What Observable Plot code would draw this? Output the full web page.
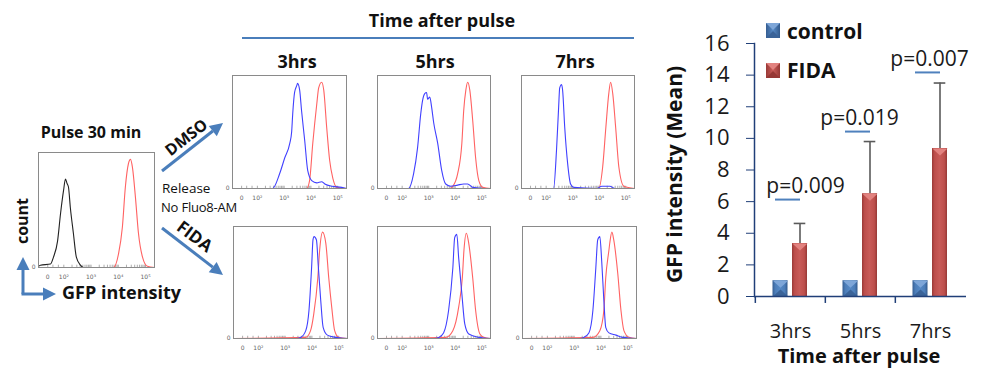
<!DOCTYPE html>
<html><head><meta charset="utf-8">
<script src="https://cdn.jsdelivr.net/npm/d3@7"></script>
<script src="https://cdn.jsdelivr.net/npm/@observablehq/plot@0.6"></script>
<style>
html,body{margin:0;padding:0;background:#fff;}
#root{position:relative;width:986px;height:378px;overflow:hidden;background:#fff;}
#root svg{position:absolute;}
</style></head><body><div id="root"></div>
<script>
// ---------------- DATA ----------------
// flow-cytometry histogram axis (log10 GFP units; "0" sits on the biexponential part)
const logTicks = [1.41, 2, 3, 4, 5];
const logTickLabels = ["0", "10²", "10³", "10⁴", "10⁵"];

// histogram curves: [log10 GFP, % of modal count]
const pulseBlack = [[1.07,1],[1.14,2],[1.51,3],[1.62,9],[1.77,23],[1.88,47],[1.99,67],[2.06,77],[2.12,73],[2.17,70],[2.24,52],[2.35,30],[2.46,9],[2.61,2],[2.72,0],[2.9,0]];
const pulseRed = [[2.6,0],[3.82,0],[4.01,12],[4.15,35],[4.26,70],[4.37,90],[4.45,94],[4.52,87],[4.63,61],[4.74,30],[4.89,9],[5.07,1],[5.33,0]];

const dmso3Blue = [[1.07,0],[2.57,0],[2.83,13],[3.02,27],[3.21,40],[3.28,50],[3.32,66],[3.39,85],[3.47,91],[3.50,93],[3.58,87],[3.65,69],[3.77,42],[3.88,16],[4.03,7],[4.22,5],[4.40,6],[4.52,4],[4.78,2],[5.15,1],[5.33,0]];
const dmso3Red = [[1.07,0],[3.84,0],[3.95,7],[4.07,40],[4.22,75],[4.29,89],[4.40,94],[4.48,87],[4.59,54],[4.70,25],[4.82,9],[4.97,1],[5.33,0]];
const dmso5Blue = [[1.07,0],[2.24,0],[2.43,13],[2.58,36],[2.70,66],[2.77,78],[2.85,84],[2.92,85],[2.96,79],[3.04,81],[3.11,72],[3.19,58],[3.34,40],[3.49,16],[3.64,4],[3.83,2],[4.09,3],[4.32,4],[4.47,4],[4.66,1],[5.08,0],[5.33,0]];
const dmso5Red = [[1.07,0],[3.80,0],[3.91,2],[4.09,13],[4.25,40],[4.32,69],[4.40,87],[4.47,94],[4.55,87],[4.66,60],[4.77,27],[4.89,7],[5.04,1],[5.33,0]];
const dmso7Blue = [[1.07,0],[2.28,0],[2.39,34],[2.47,72],[2.51,89],[2.58,92],[2.62,87],[2.70,54],[2.81,22],[2.92,4],[3.04,1],[3.90,0],[4.10,2],[4.40,2],[4.60,0],[5.33,0]];
const dmso7Red = [[1.07,0],[3.98,0],[4.13,19],[4.25,54],[4.36,84],[4.43,94],[4.51,84],[4.62,54],[4.74,19],[4.93,2],[5.33,0]];

const fida3Blue = [[1.07,0],[3.40,0],[3.58,1],[3.77,7],[3.89,25],[3.99,64],[4.04,88],[4.08,91],[4.17,88],[4.24,64],[4.33,34],[4.42,10],[4.58,3],[4.89,1],[5.33,0]];
const fida3Red = [[1.07,0],[3.77,1],[3.95,7],[4.07,22],[4.22,54],[4.29,79],[4.40,95],[4.52,85],[4.63,54],[4.74,28],[4.85,7],[5.00,1],[5.33,0]];
const fida5Blue = [[1.07,0],[3.20,0],[3.38,1],[3.56,5],[3.75,25],[3.91,63],[3.98,90],[4.06,93],[4.13,72],[4.25,40],[4.36,13],[4.51,4],[4.89,1],[5.33,0]];
const fida5Red = [[1.07,0],[3.64,1],[3.91,7],[4.13,28],[4.27,55],[4.33,79],[4.42,94],[4.51,85],[4.66,54],[4.77,25],[4.93,4],[5.08,1],[5.33,0]];
const fida7Blue = [[1.07,0],[3.20,0],[3.36,1],[3.55,5],[3.70,25],[3.81,63],[3.88,88],[3.96,91],[4.03,69],[4.11,34],[4.18,10],[4.30,5],[4.56,3],[4.82,1],[5.33,0]];
const fida7Red = [[1.07,0],[3.70,1],[3.96,7],[4.11,25],[4.18,54],[4.30,79],[4.33,85],[4.41,95],[4.48,88],[4.63,58],[4.75,25],[4.86,7],[5.05,1],[5.33,0]];

// bar chart
const times = ["3hrs", "5hrs", "7hrs"];
const controlMean = [1, 1, 1];
const fidaMean = [3.35, 6.5, 9.36];
const fidaErrTop = [4.62, 9.8, 13.5];
const pLabels = ["p=0.009", "p=0.019", "p=0.007"];
const sigLevel = [6.13, 10.43, 14.17];
const yTicks = [0, 2, 4, 6, 8, 10, 12, 14, 16];

// ---------------- DRAW ----------------
const root = document.getElementById("root");
const BLUE = "#4040ff", RED = "#ff6262", BLACK = "#222";
const tickLabelMap = new Map(logTicks.map((t, i) => [t, logTickLabels[i]]));
const minorTicks = [];
for (let n = 2; n <= 4; n++) for (let k = 1; k <= 9; k++) minorTicks.push(Math.log10(k * 10 ** n));
minorTicks.push(5, 1.41, 1.6, 1.8);

function histPanel(series, left, top, w, h) {
  const ml = 12, mr = 4, mt = 2, mb = 22;
  const svg = Plot.plot({
    width: w + ml + mr, height: h + mt + mb,
    marginLeft: ml, marginRight: mr, marginTop: mt, marginBottom: mb,
    x: {domain: [1.07, 5.33]},
    y: {domain: [0, 100]},
    style: {background: "none", fontFamily: "'DejaVu Sans', sans-serif", overflow: "visible"},
    marks: [
      Plot.ruleX(minorTicks, {y1: 0, y2: 2, stroke: "#777", strokeWidth: 0.6}),
      ...series.map(s => Plot.line(s.data, {x: d => d[0], y: d => d[1], stroke: s.color, strokeWidth: 1.1, curve: "monotone-x"})),
      Plot.frame({stroke: "#8a8a8a", strokeWidth: 1}),
      Plot.axisX({ticks: logTicks, tickFormat: d => tickLabelMap.get(d), tickSize: 0, tickPadding: 7, fontSize: 6, fill: "#666", label: null}),
      Plot.axisY({ticks: [0], tickSize: 0, tickPadding: 3, fontSize: 6, fill: "#666", label: null})
    ]
  });
  svg.style.left = (left - ml) + "px";
  svg.style.top = (top - mt) + "px";
  root.appendChild(svg);
}

histPanel([{data: pulseRed, color: RED}, {data: pulseBlack, color: BLACK}], 38, 152, 116, 115);
histPanel([{data: dmso3Red, color: RED}, {data: dmso3Blue, color: BLUE}], 232, 75, 114, 113);
histPanel([{data: dmso5Red, color: RED}, {data: dmso5Blue, color: BLUE}], 377, 75, 113, 113);
histPanel([{data: dmso7Red, color: RED}, {data: dmso7Blue, color: BLUE}], 521, 75, 113, 113);
histPanel([{data: fida3Red, color: RED}, {data: fida3Blue, color: BLUE}], 233, 226, 114, 112);
histPanel([{data: fida5Red, color: RED}, {data: fida5Blue, color: BLUE}], 377, 226, 113, 112);
histPanel([{data: fida7Red, color: RED}, {data: fida7Blue, color: BLUE}], 522, 226, 114, 112);

// ---- bar chart ----
const NAVY = "#203f78";
const barData = times.map((t, i) => ({time: t, control: controlMean[i], fida: fidaMean[i], top: fidaErrTop[i], p: pLabels[i], level: sigLevel[i]}));
const triDown = {draw(ctx) { ctx.moveTo(-7.6, 0); ctx.lineTo(7.6, 0); ctx.lineTo(0, 7); ctx.closePath(); }};
const triUp = {draw(ctx) { ctx.moveTo(-7.6, 0); ctx.lineTo(7.6, 0); ctx.lineTo(0, -7); ctx.closePath(); }};
const font = "'Open Sans', sans-serif";

const bar = Plot.plot({
  width: 326, height: 378,
  marginLeft: 94, marginRight: 20, marginTop: 43, marginBottom: 82,
  x: {domain: times, padding: 0},
  y: {domain: [0, 16]},
  style: {background: "none", fontFamily: font, overflow: "visible", color: "#1a1a1a"},
  marks: [
    Plot.ruleX(barData, {x: "time", y1: "fida", y2: "top", dx: 9.5, stroke: "#5a5a5a", strokeWidth: 1.6}),
    Plot.tickY(barData, {x: "time", y: "top", dx: 9.5, insetLeft: 29.2, insetRight: 29.2, stroke: "#5a5a5a", strokeWidth: 1.6}),
    Plot.barY(barData, {x: "time", y: "control", dx: -10, insetLeft: 27.5, insetRight: 27.5, fill: "url(#gBlue)"}),
    Plot.barY(barData, {x: "time", y: "fida", dx: 9.5, insetLeft: 27.5, insetRight: 27.5, fill: "url(#gRed)"}),
    Plot.dot(barData, {x: "time", y: "control", dx: -10, symbol: triDown, fill: "#7ea6d8", stroke: "none"}),
    Plot.dot(barData, {x: "time", y: 0, dx: -10, symbol: triUp, fill: "#3a6398", stroke: "none"}),
    Plot.dot(barData, {x: "time", y: "fida", dx: 9.5, symbol: triDown, fill: "#e2827f", stroke: "none"}),
    Plot.tickY(barData, {x: "time", y: "level", dx: -2.5, insetLeft: 22.5, insetRight: 22.5, stroke: "#4f81bd", strokeWidth: 2}),
    Plot.text(barData.filter(d => d.time === "3hrs"), {x: "time", y: "level", text: "p", dy: -13, dx: 15, fontSize: 21, fill: "#1a1a1a"}),
    Plot.text(barData.filter(d => d.time !== "3hrs"), {x: "time", y: "level", text: "p", dy: -13, dx: -1, fontSize: 21, fill: "#1a1a1a"}),
    Plot.frame({anchor: "left", stroke: NAVY, strokeWidth: 1.5}),
    Plot.ruleY([0], {stroke: NAVY, strokeWidth: 1.5}),
    Plot.ruleX(times, {x: d => d, dx: -35.17, y1: 0, y2: -0.44, stroke: NAVY, strokeWidth: 1.5}),
    Plot.axisY({ticks: yTicks, tickSize: 8, tickPadding: 17, fontSize: 22, stroke: NAVY, fill: "#1a1a1a", label: null}),
    Plot.axisX({tickSize: 0, tickPadding: 27, fontSize: 20, fill: "#1a1a1a", label: null})
  ]
});
bar.insertAdjacentHTML("afterbegin", `<defs>
<linearGradient id="gBlue" x1="0" x2="1" y1="0" y2="0">
<stop offset="0" stop-color="#365e92"/><stop offset="0.18" stop-color="#4c7db8"/><stop offset="0.5" stop-color="#5689c5"/><stop offset="0.82" stop-color="#4c7db8"/><stop offset="1" stop-color="#335a8c"/></linearGradient>
<linearGradient id="gRed" x1="0" x2="1" y1="0" y2="0">
<stop offset="0" stop-color="#9a3a37"/><stop offset="0.18" stop-color="#bd4f4c"/><stop offset="0.5" stop-color="#c85b58"/><stop offset="0.82" stop-color="#bd4f4c"/><stop offset="1" stop-color="#963835"/></linearGradient>
</defs>`);
bar.style.left = "660px";
bar.style.top = "0px";
root.appendChild(bar);

// ---- annotations overlay (titles, arrows, legend) ----
const AR = "#4a7ebb";
function arrow(x1, y1, x2, y2, hl = 13, hw = 13) {
  const dx = x2 - x1, dy = y2 - y1, L = Math.hypot(dx, dy), ux = dx / L, uy = dy / L;
  const bx = x2 - ux * hl, by = y2 - uy * hl, px = -uy * hw / 2, py = ux * hw / 2;
  return `<line x1="${x1}" y1="${y1}" x2="${bx}" y2="${by}" stroke="${AR}" stroke-width="3"/>
  <polygon points="${x2},${y2} ${bx + px},${by + py} ${bx - px},${by - py}" fill="${AR}"/>`;
}
const ov = `<svg width="986" height="378" style="left:0;top:0;pointer-events:none" font-family="'Open Sans', sans-serif" fill="#111">
<defs>
<linearGradient id="lgB" x1="0" x2="1"><stop offset="0" stop-color="#365e92"/><stop offset="0.5" stop-color="#5689c5"/><stop offset="1" stop-color="#335a8c"/></linearGradient>
<linearGradient id="lgR" x1="0" x2="1"><stop offset="0" stop-color="#9a3a37"/><stop offset="0.5" stop-color="#c85b58"/><stop offset="1" stop-color="#963835"/></linearGradient>
</defs>
<text x="91" y="138" text-anchor="middle" font-weight="700" font-size="16">Pulse 30 min</text>
<text transform="translate(28,221) rotate(-90)" text-anchor="middle" font-weight="700" font-size="16">count</text>
<text x="62" y="299" font-weight="700" font-size="18">GFP intensity</text>
${arrow(23, 294, 23, 257)}
${arrow(21.5, 294, 56, 294)}
${arrow(162, 171, 223, 123)}
${arrow(162, 228, 223, 275)}
<text transform="translate(186,137) rotate(-38)" text-anchor="middle" dominant-baseline="central" font-weight="700" font-size="16">DMSO</text>
<text transform="translate(195,236) rotate(37)" text-anchor="middle" dominant-baseline="central" font-weight="700" font-size="17">FIDA</text>
<text x="162" y="193" font-size="13.5">Release</text>
<text x="161" y="212" font-size="13" letter-spacing="-0.2">No Fluo8-AM</text>
<text x="442" y="27" text-anchor="middle" font-weight="700" font-size="18">Time after pulse</text>
<line x1="242" y1="38" x2="634" y2="38" stroke="${AR}" stroke-width="2"/>
<text x="297" y="68" text-anchor="middle" font-weight="700" font-size="18">3hrs</text>
<text x="435" y="68" text-anchor="middle" font-weight="700" font-size="18">5hrs</text>
<text x="575" y="68" text-anchor="middle" font-weight="700" font-size="18">7hrs</text>
<text transform="translate(682,174.5) rotate(-90)" text-anchor="middle" font-weight="700" font-size="21">GFP intensity (Mean)</text>
<text x="859" y="363" text-anchor="middle" font-weight="700" font-size="20">Time after pulse</text>
<rect x="766" y="23" width="14" height="15" fill="url(#lgB)"/>
<polygon points="766,23 780,23 773,30" fill="#7ea6d8"/>
<polygon points="766,38 780,38 773,31" fill="#3a6398"/>
<text x="787" y="39" font-weight="700" font-size="21">control</text>
<rect x="766" y="63" width="14" height="15" fill="url(#lgR)"/>
<polygon points="766,63 780,63 773,70" fill="#e2827f"/>
<polygon points="766,78 780,78 773,71" fill="#963835"/>
<text x="787" y="78" font-weight="700" font-size="21">FIDA</text>
</svg>`;
root.insertAdjacentHTML("beforeend", ov);
</script></body></html>
